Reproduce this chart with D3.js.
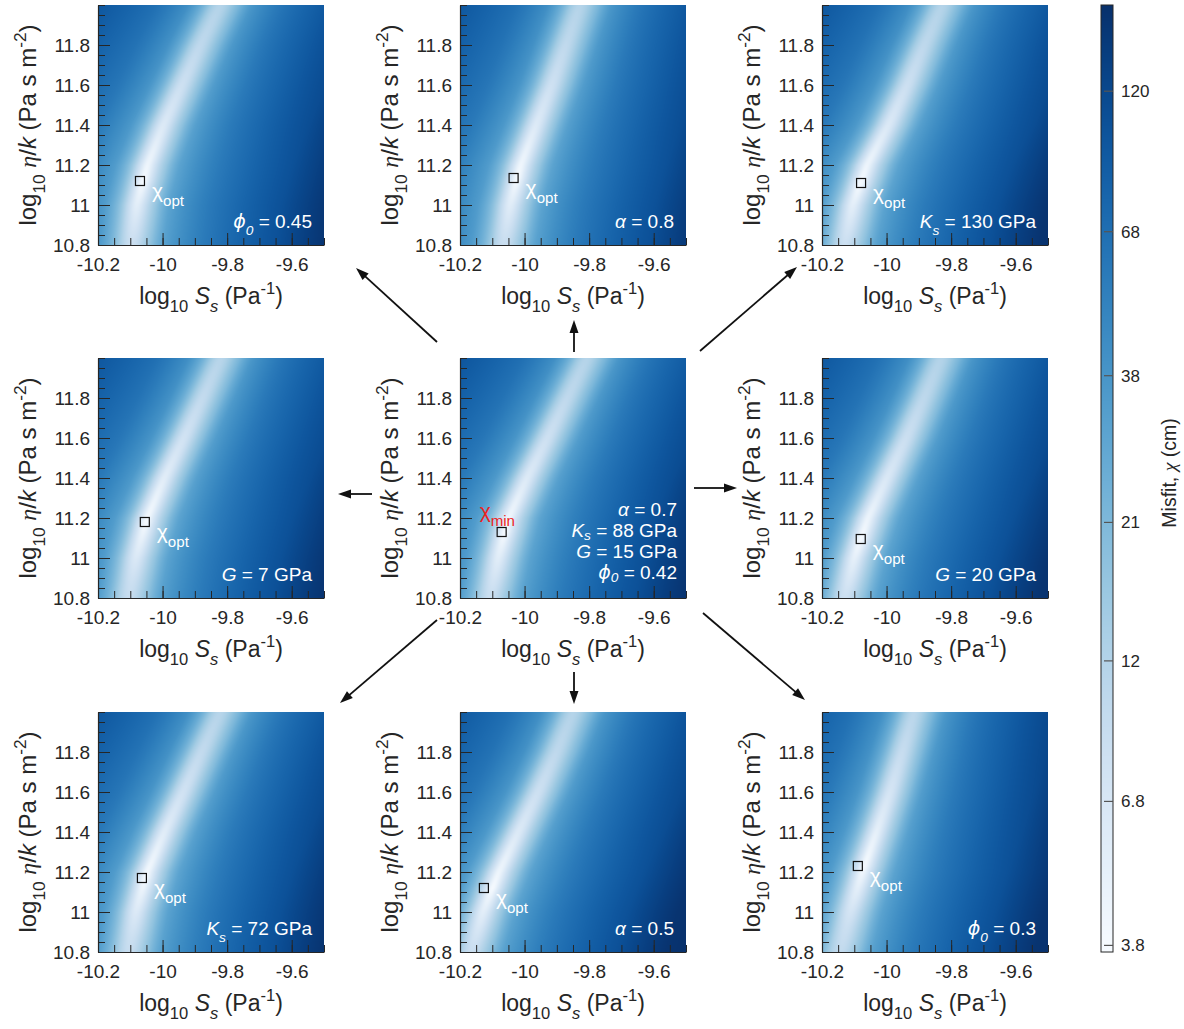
<!DOCTYPE html>
<html>
<head>
<meta charset="utf-8">
<script src="https://cdn.jsdelivr.net/npm/d3@7"></script>
<style>
body { margin: 0; background: #fff; }
text { font-family: "Liberation Sans", Arial, Helvetica, sans-serif; white-space: pre; }
</style>
</head>
<body>
<svg width="1184" height="1029"></svg>
<script>
// ---------- data ----------
const panelParams = ["phi0", "alpha", "Ks", "G", "base", "G", "Ks", "alpha", "phi0"];
const panelValues = ["0.45", "0.8", "130 GPa", "7 GPa", "", "20 GPa", "72 GPa", "0.5", "0.3"];
const baseParams = ["alpha", "Ks", "G", "phi0"];
const baseValues = ["0.7", "88 GPa", "15 GPa", "0.42"];

// best-fit (square) location per panel
const optX = [-10.070, -10.034, -10.079, -10.055, -10.071, -10.080, -10.064, -10.126, -10.089];
const optY = [11.12, 11.135, 11.11, 11.18, 11.13, 11.095, 11.17, 11.12, 11.23];

// x position of the misfit valley at these rows, per panel
const valleyRows = [10.8, 11.0, 11.2, 11.4, 11.6, 11.8, 12.0];
const valleyX = [
    [-10.096, -10.080, -10.047, -9.998, -9.941, -9.884, -9.822],
    [-10.065, -10.045, -10.012, -9.965, -9.917, -9.873, -9.829],
    [-10.130, -10.105, -10.061, -9.995, -9.937, -9.884, -9.828],
    [-10.105, -10.083, -10.048, -9.995, -9.935, -9.877, -9.820],
    [-10.107, -10.082, -10.050, -9.993, -9.930, -9.869, -9.807],
    [-10.130, -10.100, -10.058, -10.000, -9.940, -9.885, -9.832],
    [-10.105, -10.083, -10.048, -9.995, -9.937, -9.880, -9.822],
    [-10.165, -10.129, -10.080, -10.020, -9.959, -9.902, -9.850],
    [-10.144, -10.113, -10.075, -10.032, -9.990, -9.952, -9.915]
];

// misfit (cm) across the valley, by offset from the valley in log10 Ss
const profOffset = [-0.5, -0.38, -0.2, -0.1, -0.06, -0.03, 0, 0.03, 0.06, 0.1, 0.2, 0.3, 0.45, 0.6, 0.75];
const profMisfit = [95, 80, 55, 34, 20, 9, 0, 8, 16, 30, 52, 72, 105, 160, 180];
const rowScale = [1.0, 1.0, 1.0, 1.05, 1.1, 1.15, 1.2];
// misfit along the valley floor, by offset from the optimum in log10 eta/k
const floorOffset = [-0.45, -0.3, -0.15, 0, 0.15, 0.3, 0.5, 0.7, 0.9];
const floorMisfit = [10, 8.5, 6, 3.9, 5, 6.5, 8.5, 10.5, 12];

const cbarDomain = [3.7, 170];
const cbarTicks = [3.8, 6.8, 12, 21, 38, 68, 120];

const xDomain = [-10.2, -9.5];
const yDomain = [10.8, 12.0];
const xTicks = [-10.2, -10, -9.8, -9.6];
const yTicks = [10.8, 11, 11.2, 11.4, 11.6, 11.8];

// ---------- layout ----------
const svg = d3.select("svg");
const colX = [98, 460, 822], rowY = [5, 358, 712];
const pw = 226, ph = 240;
const ink = "#262626";

const x = d3.scaleLinear().domain(xDomain).range([0, pw]);
const y = d3.scaleLinear().domain(yDomain).range([ph, 0]);

const lut = d3.range(512).map(i => d3.rgb(d3.interpolateBlues(i / 511)));
const cIdx = d3.scaleLog().domain(cbarDomain).range([0, 511]).clamp(true);
const colorOf = m => d3.interpolateBlues(cIdx(m) / 511);

const prof = d3.scaleLinear().domain(profOffset).range(profMisfit).clamp(true);
const rowS = d3.scaleLinear().domain(valleyRows).range(rowScale).clamp(true);
const floorS = d3.scaleLinear().domain(floorOffset).range(floorMisfit).clamp(true);

// rich text: parts = [text, "flags"], flags: it, ser, dj, sub, sup
function rich(sel, parts, size, subShift) {
    const sb = subShift === undefined ? 0.36 : subShift;
    let shift = 0;
    parts.forEach(([t, s]) => {
        const f = s.split(" ");
        const ts = sel.append("tspan").text(t);
        let target = 0, fs = size;
        if (f.includes("sub")) { target = size * sb; fs = size * 0.72; }
        if (f.includes("sup")) { target = -size * 0.42; fs = size * 0.72; }
        if (target !== shift) { ts.attr("dy", target - shift); shift = target; }
        ts.attr("font-size", fs);
        if (f.includes("it")) ts.attr("font-style", "italic");
        if (f.includes("ser")) ts.attr("font-family", "'Liberation Serif', 'Times New Roman', serif");
        if (f.includes("dj")) ts.attr("font-family", "'DejaVu Sans', sans-serif");
    });
}

const paramParts = {
    phi0: v => [["ϕ", "it dj"], ["0", "it sub"], [" = " + v, ""]],
    alpha: v => [["α", "it"], [" = " + v, ""]],
    Ks: v => [["K", "it"], ["s", "it sub"], [" = " + v, ""]],
    G: v => [["G", "it"], [" = " + v, ""]]
};

function styleAxis(a) {
    a.attr("font-family", null).attr("font-size", null);
    a.select(".domain").attr("stroke", ink).attr("stroke-width", 1.2);
    a.selectAll(".tick line").attr("stroke", ink);
    a.selectAll(".tick text").attr("fill", ink).attr("font-size", 19);
}

panelParams.forEach((p, k) => {
    const g = svg.append("g")
        .attr("transform", "translate(" + colX[k % 3] + "," + rowY[Math.floor(k / 3)] + ")");

    // heatmap raster
    const canvas = document.createElement("canvas");
    canvas.width = pw; canvas.height = ph;
    const ctx = canvas.getContext("2d");
    const img = ctx.createImageData(pw, ph);
    const valley = d3.scaleLinear().domain(valleyRows).range(valleyX[k]);
    for (let j = 0; j < ph; j++) {
        const yy = y.invert(j + 0.5);
        const vx = valley(yy), fl = floorS(yy - optY[k]), rs = rowS(yy);
        for (let i = 0; i < pw; i++) {
            const m = Math.hypot(fl, prof(x.invert(i + 0.5) - vx) * rs);
            const c = lut[Math.round(cIdx(m))];
            const o = (j * pw + i) * 4;
            img.data[o] = c.r; img.data[o + 1] = c.g; img.data[o + 2] = c.b; img.data[o + 3] = 255;
        }
    }
    ctx.putImageData(img, 0, 0);
    g.append("image")
        .attr("href", canvas.toDataURL())
        .attr("width", pw).attr("height", ph)
        .attr("preserveAspectRatio", "none");

    // minor ticks
    g.append("g").attr("transform", "translate(0," + ph + ")")
        .call(d3.axisBottom(x).tickValues(d3.range(0, 15).map(i => -10.2 + i * 0.05))
            .tickSizeInner(-7).tickSizeOuter(0).tickFormat(""))
        .call(a => { a.select(".domain").remove(); a.selectAll("line").attr("stroke", ink); });
    g.append("g")
        .call(d3.axisLeft(y).tickValues(d3.range(0, 25).map(i => 10.8 + i * 0.05))
            .tickSizeInner(-7).tickSizeOuter(0).tickFormat(""))
        .call(a => { a.select(".domain").remove(); a.selectAll("line").attr("stroke", ink); });

    // major ticks + labels
    g.append("g").attr("transform", "translate(0," + ph + ")")
        .call(d3.axisBottom(x).tickValues(xTicks).tickSizeInner(-12).tickSizeOuter(0)
            .tickPadding(13).tickFormat(d => String(d)))
        .call(styleAxis);
    g.append("g")
        .call(d3.axisLeft(y).tickValues(yTicks).tickSizeInner(-12).tickSizeOuter(0)
            .tickPadding(8).tickFormat(d => String(d)))
        .call(styleAxis);

    // axis titles
    g.append("text")
        .attr("x", pw / 2).attr("y", ph + 59)
        .attr("text-anchor", "middle").attr("fill", ink)
        .call(t => rich(t, [["log", ""], ["10", "sub"], [" ", ""], ["S", "it"], ["s", "it sub"],
            [" (Pa", ""], ["-1", "sup"], [")", ""]], 23));
    g.append("text")
        .attr("transform", "translate(-62," + (ph / 2) + ") rotate(-90)")
        .attr("text-anchor", "middle").attr("fill", ink)
        .call(t => rich(t, [["log", ""], ["10", "sub"], [" ", ""], ["η", "it ser"], ["/", ""], ["k", "it"],
            [" (Pa s m", ""], ["-2", "sup"], [")", ""]], 24));

    // optimum marker
    const sx = x(optX[k]), sy = y(optY[k]);
    g.append("rect")
        .attr("x", sx - 4.5).attr("y", sy - 4.5)
        .attr("width", 9).attr("height", 9)
        .attr("fill", "none").attr("stroke", "#111").attr("stroke-width", 1.2);

    if (p === "base") {
        g.append("text")
            .attr("x", sx - 22).attr("y", sy - 14)
            .attr("fill", "#ee2222")
            .call(t => rich(t, [["χ", ""], ["min", "sub"]], 21));
        baseParams.forEach((bp, r) => {
            g.append("text")
                .attr("x", pw - 9).attr("y", 158 + r * 21)
                .attr("text-anchor", "end").attr("fill", "#fff")
                .call(t => rich(t, paramParts[bp](baseValues[r]), 19, 0.16));
        });
    } else {
        g.append("text")
            .attr("x", sx + 12).attr("y", sy + 17)
            .attr("fill", "#fff")
            .call(t => rich(t, [["χ", ""], ["opt", "sub"]], 21));
        g.append("text")
            .attr("x", pw - 12).attr("y", ph - 17)
            .attr("text-anchor", "end").attr("fill", "#fff")
            .call(t => rich(t, paramParts[p](panelValues[k]), 19));
    }
});

// ---------- arrows from the base case ----------
const arrows = [
    [437, 342, 356, 268], [574, 352, 574, 320], [700, 351, 797, 267],
    [372, 494, 338, 494], [694, 488, 737, 488],
    [437, 620, 340, 703], [574, 672, 574, 704], [703, 613, 805, 700]
];
const arrowG = svg.append("g");
arrows.forEach(([x1, y1, x2, y2]) => {
    const L = Math.hypot(x2 - x1, y2 - y1), ux = (x2 - x1) / L, uy = (y2 - y1) / L;
    const hl = 13, hw = 4.5;
    arrowG.append("line")
        .attr("x1", x1).attr("y1", y1)
        .attr("x2", x2 - ux * (hl - 2)).attr("y2", y2 - uy * (hl - 2))
        .attr("stroke", "#111").attr("stroke-width", 1.8);
    const bx = x2 - ux * hl, by = y2 - uy * hl;
    arrowG.append("path")
        .attr("d", "M" + x2 + "," + y2 + "L" + (bx - uy * hw) + "," + (by + ux * hw)
            + "L" + (bx + uy * hw) + "," + (by - ux * hw) + "Z")
        .attr("fill", "#111");
});

// ---------- colorbar ----------
const cbX = 1101, cbW = 12, cbTop = 5, cbBottom = 952;
const cbY = d3.scaleLog().domain(cbarDomain).range([cbBottom, cbTop]);
const cb = svg.append("g");
cb.selectAll("rect.cell")
    .data(d3.range(cbTop, cbBottom))
    .join("rect")
    .attr("class", "cell")
    .attr("x", cbX).attr("y", d => d)
    .attr("width", cbW).attr("height", 1.3)
    .attr("fill", d => colorOf(cbY.invert(d + 0.5)));
cb.append("rect")
    .attr("x", cbX).attr("y", cbTop)
    .attr("width", cbW).attr("height", cbBottom - cbTop)
    .attr("fill", "none").attr("stroke", ink).attr("stroke-width", 1);
cb.selectAll("line.tk")
    .data(cbarTicks)
    .join("line")
    .attr("class", "tk")
    .attr("x1", cbX + 3).attr("x2", cbX + cbW)
    .attr("y1", d => cbY(d)).attr("y2", d => cbY(d))
    .attr("stroke", "#555").attr("stroke-width", 1.2);
cb.selectAll("text.tl")
    .data(cbarTicks)
    .join("text")
    .attr("class", "tl")
    .attr("x", cbX + cbW + 8).attr("y", d => cbY(d))
    .attr("dy", "0.35em")
    .attr("font-size", 17).attr("fill", ink)
    .text(d => String(d));
cb.append("text")
    .attr("transform", "translate(1176,473) rotate(-90)")
    .attr("text-anchor", "middle").attr("fill", ink)
    .call(t => rich(t, [["Misfit, ", ""], ["χ", "it ser"], [" (cm)", ""]], 19.5));
</script>
</body>
</html>
